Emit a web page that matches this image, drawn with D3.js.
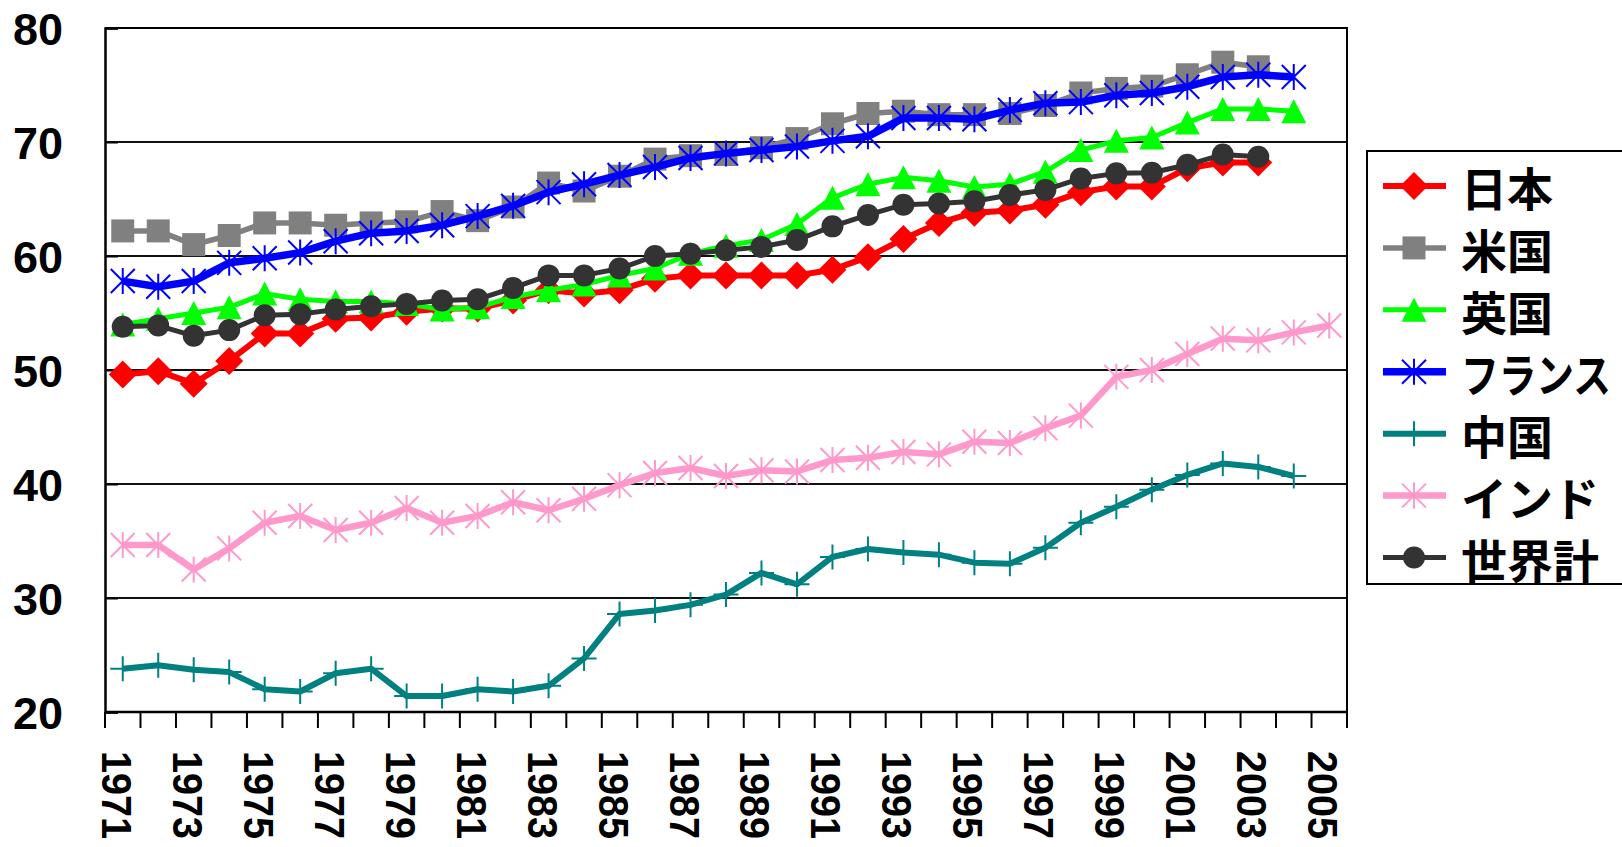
<!DOCTYPE html>
<html><head><meta charset="utf-8">
<script src="https://cdn.jsdelivr.net/npm/d3@7"></script>
<style>body{margin:0;background:#fff;overflow:hidden;} svg{display:block;}</style>
</head><body><svg id="c" width="1622" height="847"></svg>
<script>
// ---- data ----
const years = [1971,1972,1973,1974,1975,1976,1977,1978,1979,1980,1981,1982,1983,1984,1985,1986,1987,1988,1989,1990,1991,1992,1993,1994,1995,1996,1997,1998,1999,2000,2001,2002,2003,2004,2005];
const tickLabels = [1971,1973,1975,1977,1979,1981,1983,1985,1987,1989,1991,1993,1995,1997,1999,2001,2003,2005];
const yTicks = [20,30,40,50,60,70,80];
const seriesNames = ["日本","米国","英国","フランス","中国","インド","世界計"];
const japan  = [49.6,49.9,48.8,50.8,53.2,53.2,54.5,54.6,55.1,55.4,55.4,56.1,57.0,56.7,57.0,58.0,58.3,58.3,58.3,58.3,58.8,59.9,61.5,62.9,63.8,64.0,64.5,65.6,66.1,66.1,67.7,68.2,68.2];
const usa    = [62.2,62.2,61.0,61.8,62.9,62.9,62.7,62.9,63.0,63.9,63.1,64.3,66.4,65.7,67.0,68.5,68.8,68.9,69.5,70.3,71.6,72.5,72.7,72.4,72.4,72.5,73.2,74.3,74.7,74.9,75.9,77.0,76.6];
const uk     = [54.0,54.5,55.0,55.5,56.7,56.2,56.0,56.0,55.8,55.3,55.5,56.4,57.0,57.5,58.3,58.9,60.2,60.9,61.4,62.8,65.1,66.3,66.9,66.6,66.05,66.3,67.4,69.3,70.1,70.4,71.7,72.9,72.9,72.7];
const france = [57.8,57.3,57.8,59.4,59.8,60.3,61.3,62.0,62.2,62.7,63.5,64.4,65.6,66.3,67.1,67.8,68.6,69.0,69.3,69.6,70.1,70.5,72.1,72.1,72.0,72.8,73.4,73.5,74.1,74.3,74.85,75.7,75.9,75.7];
const china  = [23.8,24.1,23.7,23.5,22.0,21.8,23.4,23.8,21.4,21.4,22.0,21.8,22.3,24.7,28.6,28.9,29.4,30.3,32.2,31.2,33.6,34.3,34.0,33.8,33.1,33.0,34.4,36.6,38.0,39.5,40.8,41.8,41.5,40.7];
const india  = [34.65,34.65,32.5,34.35,36.6,37.2,35.96,36.6,37.9,36.6,37.2,38.4,37.7,38.7,39.9,40.96,41.4,40.7,41.2,41.1,42.1,42.3,42.8,42.6,43.7,43.6,44.9,46.0,49.4,50.0,51.4,52.75,52.6,53.3,53.9];
const world  = [53.8,53.9,53.0,53.5,54.8,54.9,55.3,55.6,55.8,56.1,56.2,57.2,58.3,58.3,58.9,60.0,60.2,60.5,60.8,61.4,62.6,63.6,64.5,64.6,64.8,65.35,65.8,66.8,67.25,67.3,68.0,68.9,68.7];

const seriesValues = [japan, usa, uk, france, china, india, world];
const styles = [
  {color:"#FF0000", width:6,   marker:"diamond"},
  {color:"#808080", width:5.5, marker:"square"},
  {color:"#00FF00", width:5,   marker:"triangle"},
  {color:"#0000FF", width:7.5, marker:"star"},
  {color:"#008080", width:6,   marker:"plus"},
  {color:"#FF99CC", width:6.5, marker:"star"},
  {color:"#333333", width:5,   marker:"circle"}
];

// ---- layout ----
const svg = d3.select("#c");
const L = 105, R = 1347, T = 28, B = 712;
const x = d3.scaleBand().domain(years).range([L, R]).paddingInner(0).paddingOuter(0);
const y = d3.scaleLinear().domain([20, 80]).range([B, T]);
const bw = x.bandwidth();
const cx = yr => x(yr) + bw / 2;

// gridlines
svg.append("g").selectAll("line").data(yTicks.filter(t => t > 20 && t < 80)).join("line")
  .attr("x1", L).attr("x2", R).attr("y1", d => y(d)).attr("y2", d => y(d))
  .attr("stroke", "#111").attr("stroke-width", 2);

// plot border (top/right)
svg.append("path").attr("d", `M${L},${T}H${R}V${B}`).attr("fill", "none").attr("stroke", "#000").attr("stroke-width", 2);

// y axis
const yAxis = d3.axisLeft(y).tickValues(yTicks).tickSize(-13).tickPadding(42).tickFormat(d3.format("d"));
const gy = svg.append("g").attr("transform", `translate(${L},0)`).call(yAxis);
gy.select(".domain").attr("stroke", "#000").attr("stroke-width", 2.5);
gy.selectAll(".tick line").attr("stroke", "#000").attr("stroke-width", 2);
gy.selectAll(".tick text").attr("font-family", "'Liberation Sans', Arial, sans-serif")
  .attr("font-weight", "bold").attr("font-size", 45).attr("fill", "#000")
  .attr("x", -42).attr("dy", "0.36em");

// x axis: ticks at category boundaries
const boundaries = years.map(yr => x(yr)).concat([R]);
const gx = svg.append("g");
gx.append("line").attr("x1", L).attr("x2", R).attr("y1", B).attr("y2", B).attr("stroke", "#000").attr("stroke-width", 2.5);
gx.selectAll("line.tk").data(boundaries).join("line").attr("class", "tk")
  .attr("x1", d => d).attr("x2", d => d).attr("y1", B).attr("y2", B + 16)
  .attr("stroke", "#000").attr("stroke-width", 2);
gx.selectAll("text").data(tickLabels).join("text")
  .attr("transform", d => `translate(${cx(d) - 21},751) rotate(90)`)
  .attr("font-family", "'Liberation Sans', Arial, sans-serif")
  .attr("font-weight", "bold").attr("font-size", 43).attr("fill", "#000")
  .attr("textLength", 88).attr("lengthAdjust", "spacingAndGlyphs")
  .text(d => d);

// markers
function markerPath(type) {
  switch (type) {
    case "diamond": return "M0,-14L14,0L0,14L-14,0Z";
    case "square": return "M-11.5,-11.5H11.5V11.5H-11.5Z";
    case "triangle": return "M0,-12L12.5,12L-12.5,12Z";
    case "star": return "M0,-13V13M-12,-12L12,12M12,-12L-12,12";
    case "plus": return "M0,-12.5V12.5M-12.5,0H12.5";
  }
}
function drawMarker(g, type, color) {
  if (type === "circle") {
    g.append("circle").attr("r", 11).attr("fill", color);
  } else if (type === "star" || type === "plus") {
    g.append("path").attr("d", markerPath(type)).attr("fill", "none").attr("stroke", color).attr("stroke-width", 2);
  } else {
    g.append("path").attr("d", markerPath(type)).attr("fill", color);
  }
}

const line = d3.line().x(d => cx(d.year)).y(d => y(d.v));
seriesValues.forEach((vals, i) => {
  const st = styles[i];
  const data = vals.map((v, j) => ({year: years[j], v}));
  const g = svg.append("g");
  g.append("path").datum(data).attr("d", line).attr("fill", "none")
    .attr("stroke", st.color).attr("stroke-width", st.width).attr("stroke-linejoin", "round");
  g.selectAll("g.m").data(data).join("g").attr("class", "m")
    .attr("transform", d => `translate(${cx(d.year)},${y(d.v)})`)
    .each(function () { drawMarker(d3.select(this), st.marker, st.color); });
});

// legend
const lg = svg.append("g");
lg.append("rect").attr("x", 1367).attr("y", 151).attr("width", 300).attr("height", 433)
  .attr("fill", "#fff").attr("stroke", "#000").attr("stroke-width", 2);
const rowY = d3.scaleLinear().domain([0, 6]).range([186, 557.5]);
seriesNames.forEach((name, i) => {
  const st = styles[i];
  const yy = rowY(i);
  lg.append("line").attr("x1", 1383).attr("x2", 1446).attr("y1", yy).attr("y2", yy)
    .attr("stroke", st.color).attr("stroke-width", st.width);
  drawMarker(lg.append("g").attr("transform", `translate(1414,${yy})`), st.marker, st.color);
  const t = lg.append("text").attr("transform", `translate(1461,${yy})`).attr("dominant-baseline", "central")
    .attr("font-family", "'Noto Sans CJK JP', sans-serif").attr("font-weight", "bold")
    .attr("font-size", 46).attr("fill", "#000")
    .text(name);
  const maxW = 150;
  const w = t.node().getComputedTextLength();
  if (w > maxW) {
    t.attr("transform", `translate(1461,${yy}) scale(${maxW / w},1)`);
  }
});
</script>
</body></html>
